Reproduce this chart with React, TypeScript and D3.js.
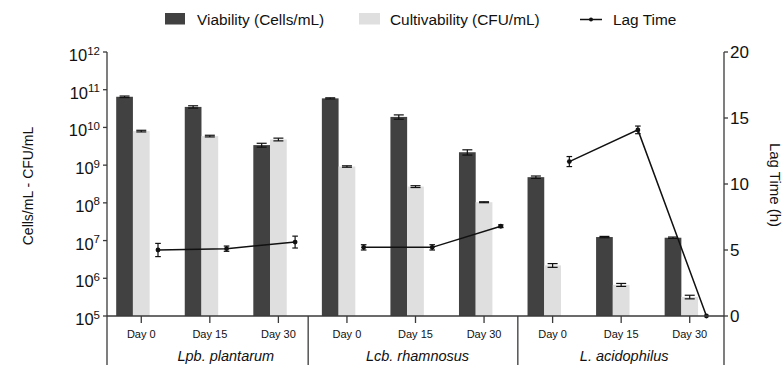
import React from "react";
import * as d3 from "d3";

// Strains (outer groups) and sampling days (inner categories)
const strains = ["Lpb. plantarum", "Lcb. rhamnosus", "L. acidophilus"];
const days = ["Day 0", "Day 15", "Day 30"];

// Viability (Cells/mL), one value per strain × day
const viability = [6.5e10, 3.5e10, 3.4e9, 5.9e10, 1.9e10, 2.2e9, 4.8e8, 1.24e7, 1.19e7];
const viabilitySd = [0.3e10, 0.25e10, 0.4e9, 0.2e10, 0.25e10, 0.35e9, 0.35e8, 0.05e7, 0.05e7];

// Cultivability (CFU/mL)
const cultivability = [8.0e9, 5.9e9, 4.8e9, 9.2e8, 2.7e8, 1.04e8, 2.2e6, 6.7e5, 3.2e5];
const cultivabilitySd = [0.4e9, 0.3e9, 0.4e9, 0.4e8, 0.15e8, 0.3e7, 0.25e6, 0.6e5, 0.35e5];

// Lag time (h)
const lagTime = [5.0, 5.1, 5.6, 5.2, 5.2, 6.8, 11.7, 14.1, 0];
const lagTimeSd = [0.5, 0.2, 0.45, 0.2, 0.2, 0.1, 0.38, 0.29, 0];

// Axis ticks
const logExponents = [5, 6, 7, 8, 9, 10, 11, 12];
const lagTicks = [0, 5, 10, 15, 20];

const W = 783;
const H = 365;
const left = 107;
const right = 724;
const top = 52;
const bottom = 316;

const FONT = "'Liberation Sans', Arial, Helvetica, sans-serif";
const DARK = "#414141";
const LIGHT = "#dfdfdf";
const AXIS = "#3a3a3a";

export default function App() {
  const cats = d3.range(strains.length * days.length).map(String);
  const x0 = d3.scaleBand<string>().domain(cats).range([left, right]).paddingInner(0).paddingOuter(0);
  const series = ["viability", "cultivability", "lag"];
  const x1 = d3
    .scaleBand<string>()
    .domain(series)
    .range([0, x0.bandwidth()])
    .paddingInner(0)
    .paddingOuter(0.55);

  const y = d3.scaleLog().domain([1e5, 1e12]).range([bottom, top]);
  const yLag = d3.scaleLinear().domain([0, 20]).range([bottom, top]);

  const lagX = (i: number) =>
    (x0(String(i)) as number) + (x1("lag") as number) + x1.bandwidth() / 2;

  const lineGen = d3
    .line<number>()
    .x((i) => lagX(i))
    .y((i) => yLag(lagTime[i]));

  const barW = x1.bandwidth();

  const renderBar = (vals: number[], sds: number[], key: string, fill: string) =>
    vals.map((v, i) => {
      const bx = (x0(String(i)) as number) + (x1(key) as number);
      const cx = bx + barW / 2;
      const yTop = y(v);
      const yHi = y(v + sds[i]);
      const yLo = y(Math.max(v - sds[i], 1e5));
      return (
        <g key={key + i}>
          <rect x={bx} y={yTop} width={barW} height={bottom - yTop} fill={fill} />
          <line x1={cx} x2={cx} y1={yHi} y2={yLo} stroke="#111" strokeWidth={1.2} />
          <line x1={cx - 5} x2={cx + 5} y1={yHi} y2={yHi} stroke="#111" strokeWidth={1.2} />
          <line x1={cx - 5} x2={cx + 5} y1={yLo} y2={yLo} stroke="#111" strokeWidth={1.2} />
        </g>
      );
    });

  // Group separators between neighbouring strains (first one sits a little left of the band edge)
  const sepNudge = [-4.5, -0.5];
  const sepX = d3.range(1, strains.length).map((g, k) => {
    const lastPrev = x0(String(g * days.length - 1)) as number;
    return lastPrev + x0.bandwidth() + sepNudge[k];
  });

  // Strain label centres, relative to the middle day of each group
  const labelNudge = [16, 2, 3];

  return (
    <svg
      width={W}
      height={H}
      style={{ position: "absolute", left: 0, top: 0, background: "#fff" }}
      fontFamily={FONT}
    >
      {/* Legend */}
      <g>
        <rect x={165} y={13} width={20} height={11.5} fill={DARK} />
        <text x={197} y={25} fontSize={15.4} fill="#111">Viability (Cells/mL)</text>
        <rect x={359} y={13} width={21} height={11.5} fill={LIGHT} />
        <text x={390} y={25} fontSize={15.4} fill="#111">Cultivability (CFU/mL)</text>
        <line x1={580} x2={602} y1={19.5} y2={19.5} stroke="#111" strokeWidth={1.5} />
        <circle cx={591} cy={19.5} r={2} fill="#111" />
        <text x={613} y={25} fontSize={15.4} fill="#111">Lag Time</text>
      </g>

      {/* Bars */}
      {renderBar(viability, viabilitySd, "viability", DARK)}
      {renderBar(cultivability, cultivabilitySd, "cultivability", LIGHT)}

      {/* Lag time lines, one per strain */}
      {strains.map((s, g) => {
        const idx = d3.range(g * days.length, (g + 1) * days.length);
        return (
          <g key={s}>
            <path d={lineGen(idx) as string} fill="none" stroke="#111" strokeWidth={1.5} />
            {idx.map((i) => {
              const cx = lagX(i);
              const cy = yLag(lagTime[i]);
              const hi = yLag(lagTime[i] + lagTimeSd[i]);
              const lo = yLag(lagTime[i] - lagTimeSd[i]);
              return (
                <g key={i}>
                  {lagTimeSd[i] > 0 && (
                    <g stroke="#111" strokeWidth={1.2}>
                      <line x1={cx} x2={cx} y1={hi} y2={lo} />
                      <line x1={cx - 2.8} x2={cx + 2.8} y1={hi} y2={hi} />
                      <line x1={cx - 2.8} x2={cx + 2.8} y1={lo} y2={lo} />
                    </g>
                  )}
                  <circle cx={cx} cy={cy} r={2.4} fill="#111" />
                </g>
              );
            })}
          </g>
        );
      })}

      {/* Axes, ticks and group brackets */}
      <g stroke={AXIS} strokeWidth={1.3}>
        <line x1={left} x2={left} y1={top} y2={H} />
        <line x1={right} x2={right} y1={top} y2={H} />
        <line x1={left} x2={right} y1={bottom} y2={bottom} />
        {logExponents.map((e) => (
          <line key={e} x1={left - 4} x2={left} y1={y(Math.pow(10, e))} y2={y(Math.pow(10, e))} />
        ))}
        {lagTicks.map((t) => (
          <line key={t} x1={right} x2={right + 4} y1={yLag(t)} y2={yLag(t)} />
        ))}
        {cats.map((c) => {
          const cx = (x0(c) as number) + x0.bandwidth() / 2;
          return <line key={c} x1={cx} x2={cx} y1={bottom} y2={bottom + 7} />;
        })}
        {sepX.map((sx) => (
          <line key={sx} x1={sx} x2={sx} y1={bottom} y2={H} />
        ))}
      </g>

      {logExponents.map((e) => (
        <text
          key={e}
          x={100}
          y={y(Math.pow(10, e)) + 9}
          textAnchor="end"
          fontSize={16.5}
          fill="#111"
        >
          10
          <tspan dy={-6.5} fontSize={11.5}>
            {e}
          </tspan>
        </text>
      ))}

      {lagTicks.map((t) => (
        <text key={t} x={730} y={yLag(t) + 6} fontSize={17} fill="#111">
          {t}
        </text>
      ))}

      {/* Category labels */}
      {cats.map((c, i) => {
        const cx = (x0(c) as number) + x0.bandwidth() / 2;
        return (
          <text key={c} x={cx} y={337.5} textAnchor="middle" fontSize={11} fill="#111">
            {days[i % days.length]}
          </text>
        );
      })}

      {/* Strain labels */}
      {strains.map((s, g) => {
        const mid = x0(String(g * days.length + 1)) as number;
        return (
          <text
            key={s}
            x={mid + x0.bandwidth() / 2 + labelNudge[g]}
            y={361}
            textAnchor="middle"
            fontSize={14.5}
            fontStyle="italic"
            fill="#111"
          >
            {s}
          </text>
        );
      })}

      {/* Axis titles */}
      <text
        transform={`translate(33, 186) rotate(-90)`}
        textAnchor="middle"
        fontSize={14}
        fill="#111"
      >
        Cells/mL - CFU/mL
      </text>
      <text
        transform={`translate(770, 185) rotate(90)`}
        textAnchor="middle"
        fontSize={15}
        fill="#111"
      >
        Lag Time (h)
      </text>
    </svg>
  );
}
